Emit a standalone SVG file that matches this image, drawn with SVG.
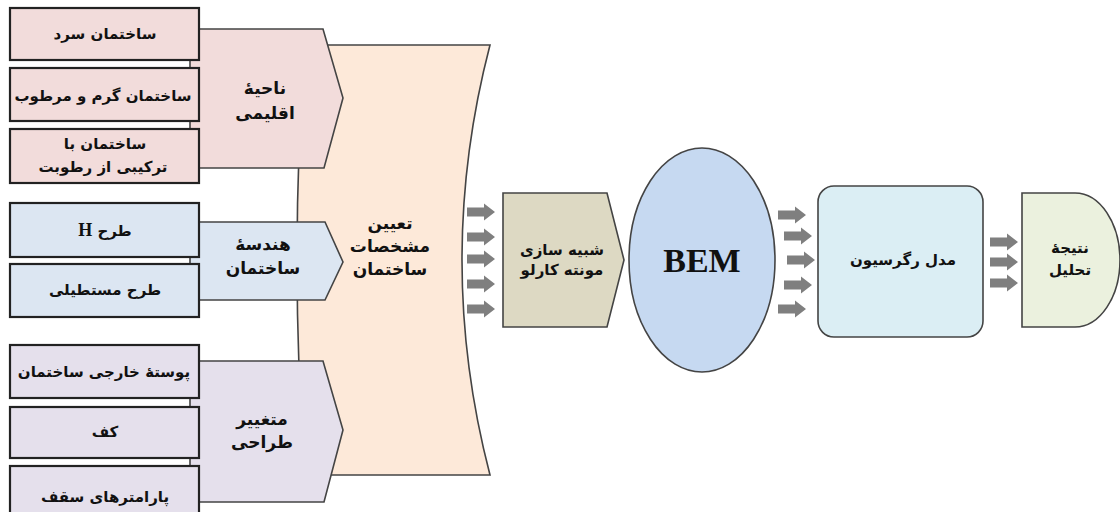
<svg xmlns="http://www.w3.org/2000/svg" xmlns:xlink="http://www.w3.org/1999/xlink" width="1120" height="512" viewBox="0 0 1120 512">
  <style>
    .box { stroke: #222; stroke-width: 2.2; }
    .shape { stroke: #444; stroke-width: 1.6; }
    .fa { font-family: "DejaVu Sans", "Noto Sans", sans-serif; font-weight: bold; font-size: 15px; fill: #111; text-anchor: middle; direction: rtl; }
    .lbl { font-size: 17px; }
    .pink { fill: #f2dcdb; }
    .blue { fill: #dce6f2; }
    .lilac { fill: #e5e0ec; }
    .peach { fill: #fde9d9; }
    .arr { fill: #7f7f7f; }
  </style>
  <defs>
    <path id="blk" d="M0,-4.5 H17 V-8.5 L28,0 L17,8.5 V4.5 H0 Z"/>
  </defs>

  <!-- central building-specification panel -->
  <g id="spec">
    <path class="shape peach" d="M305,45 H490 Q434,260 490,475 H305 Q289,260 305,45 Z"/>
    <text class="fa lbl" x="390" y="229">تعیین</text>
    <text class="fa lbl" x="390" y="252">مشخصات</text>
    <text class="fa lbl" x="390" y="275">ساختمان</text>
  </g>

  <!-- climate zone -->
  <g id="climate">
    <path class="shape pink" d="M190,29 H323 L343,98 L324,168 H190 Z"/>
    <text class="fa lbl" x="265" y="94">ناحیهٔ</text>
    <text class="fa lbl" x="265" y="119">اقلیمی</text>
  </g>
  <g id="cold">
    <rect class="box pink" x="10" y="8" width="189" height="52"/>
    <text class="fa" x="105" y="39">ساختمان سرد</text>
  </g>
  <g id="hot-humid">
    <rect class="box pink" x="10" y="68" width="189" height="53"/>
    <text class="fa" x="103" y="101">ساختمان گرم و مرطوب</text>
  </g>
  <g id="mixed-humid">
    <rect class="box pink" x="10" y="129" width="189" height="54"/>
    <text class="fa" x="105" y="149">ساختمان با</text>
    <text class="fa" x="103" y="172">ترکیبی از رطوبت</text>
  </g>

  <!-- building geometry -->
  <g id="geometry">
    <path class="shape blue" d="M190,222 H325 L343,262 L325,300 H190 Z"/>
    <text class="fa lbl" x="263" y="250">هندسهٔ</text>
    <text class="fa lbl" x="263" y="274">ساختمان</text>
  </g>
  <g id="h-plan">
    <rect class="box blue" x="10" y="203" width="189" height="54"/>
    <text class="fa" x="105" y="236">طرح <tspan font-family="Liberation Serif, serif" font-size="18">H</tspan></text>
  </g>
  <g id="rect-plan">
    <rect class="box blue" x="10" y="264" width="189" height="53"/>
    <text class="fa" x="105" y="295">طرح مستطیلی</text>
  </g>

  <!-- design variables -->
  <g id="design">
    <path class="shape lilac" d="M190,361 H323 L343,430 L324,502 H190 Z"/>
    <text class="fa lbl" x="262" y="425">متغییر</text>
    <text class="fa lbl" x="262" y="448">طراحی</text>
  </g>
  <g id="envelope">
    <rect class="box lilac" x="10" y="345" width="189" height="53"/>
    <text class="fa" x="104" y="377">پوستهٔ خارجی ساختمان</text>
  </g>
  <g id="floor">
    <rect class="box lilac" x="10" y="407" width="189" height="51"/>
    <text class="fa" x="105" y="437">کف</text>
  </g>
  <g id="roof">
    <rect class="box lilac" x="10" y="466" width="189" height="50"/>
    <text class="fa" x="105" y="502">پارامترهای سقف</text>
  </g>

  <!-- Monte Carlo simulation -->
  <g id="monte-carlo">
    <path class="shape" fill="#ddd9c3" d="M503,193 H607 L624,260 L607,327 H503 Z"/>
    <text class="fa" x="562" y="255">شبیه سازی</text>
    <text class="fa" x="562" y="275">مونته کارلو</text>
  </g>

  <!-- BEM -->
  <g id="bem">
    <ellipse class="shape" fill="#c6d9f1" cx="702" cy="260" rx="73" ry="112"/>
    <text x="702" y="272" text-anchor="middle" font-family="Liberation Serif, serif" font-weight="bold" font-size="34" fill="#111">BEM</text>
  </g>

  <!-- regression model -->
  <g id="regression">
    <rect class="shape" fill="#dbeef4" x="818" y="186" width="165" height="151" rx="16"/>
    <text class="fa" x="903" y="265">مدل رگرسیون</text>
  </g>

  <!-- analysis result -->
  <g id="result">
    <path class="shape" fill="#ebf1de" d="M1022,193 H1075 A45,67 0 0 1 1075,327 H1022 Z"/>
    <text class="fa" x="1070" y="253">نتیجهٔ</text>
    <text class="fa" x="1070" y="275">تحلیل</text>
  </g>

  <!-- flow arrows -->
  <g id="connectors" class="arr">
    <use xlink:href="#blk" x="467" y="212"/>
    <use xlink:href="#blk" x="467" y="237"/>
    <use xlink:href="#blk" x="467" y="259"/>
    <use xlink:href="#blk" x="467" y="284"/>
    <use xlink:href="#blk" x="467" y="309"/>

    <use xlink:href="#blk" x="778" y="215"/>
    <use xlink:href="#blk" x="784" y="236"/>
    <use xlink:href="#blk" x="787" y="260"/>
    <use xlink:href="#blk" x="784" y="285"/>
    <use xlink:href="#blk" x="778" y="309"/>

    <use xlink:href="#blk" x="990" y="242"/>
    <use xlink:href="#blk" x="990" y="262"/>
    <use xlink:href="#blk" x="990" y="283"/>
  </g>
</svg>
